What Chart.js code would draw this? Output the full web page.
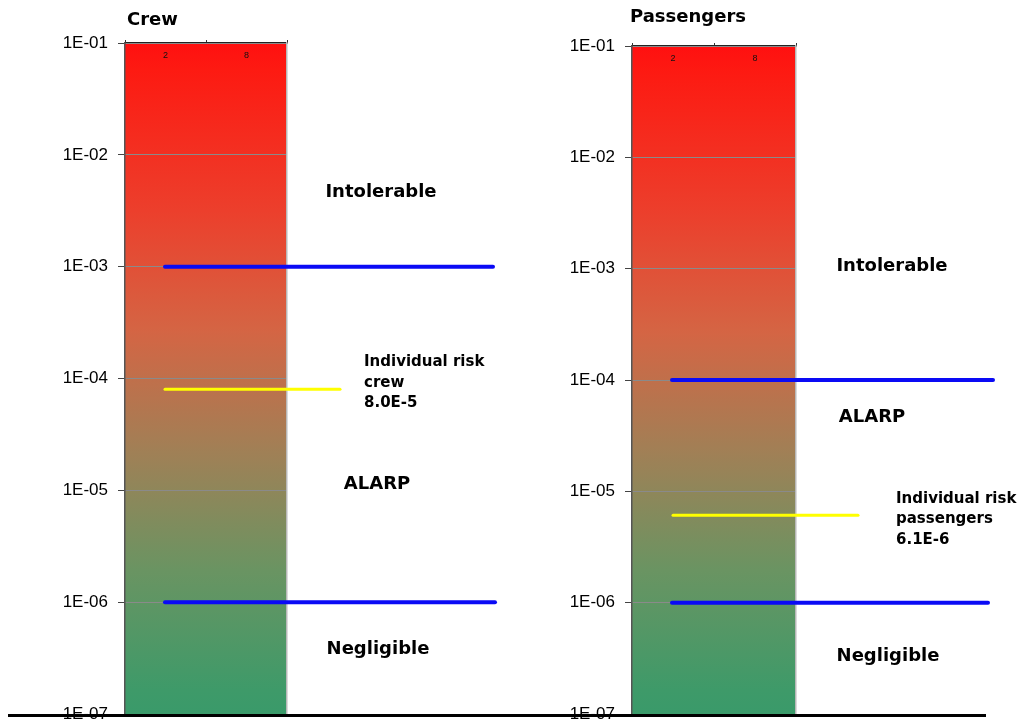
<!DOCTYPE html>
<html>
<head>
<meta charset="utf-8">
<title>Individual risk – crew and passengers</title>
<script src="https://cdn.jsdelivr.net/npm/chart.js@4/dist/chart.umd.min.js"></script>
<style>
  html, body { margin: 0; padding: 0; background: #ffffff; overflow: hidden; }
  canvas { position: absolute; top: 0; display: block; }
  #crew { left: 0; }
  #pax { left: 510px; }
</style>
</head>
<body>
<canvas id="crew" width="510" height="740"></canvas>
<canvas id="pax" width="510" height="740"></canvas>
<script>
// ---- data ----
const categories = ['2', '8'];
const tickValues = [1e-1, 1e-2, 1e-3, 1e-4, 1e-5, 1e-6, 1e-7];
const tickLabels = ['1E-01', '1E-02', '1E-03', '1E-04', '1E-05', '1E-06', '1E-07'];
const bandRange = [1e-7, 1e-1];

const crewLimits = [1e-3, 1e-6];
const crewRisk = 8.0e-5;
const passengerLimits = [1e-4, 1e-6];
const passengerRisk = 6.1e-6;

const zoneNames = ['Intolerable', 'ALARP', 'Negligible'];
const titles = ['Crew', 'Passengers'];
const riskGroups = ['crew', 'passengers'];

// ---- helpers ----
const fmtRisk = v => v.toExponential(1).toUpperCase();

function bandGradient(ctx) {
  const area = ctx.chart.chartArea;
  if (!area) return '#e04030';
  const g = ctx.chart.ctx.createLinearGradient(0, area.top, 0, area.bottom);
  g.addColorStop(0.00, '#ff1010');
  g.addColorStop(0.04, '#fd1a12');
  g.addColorStop(0.25, '#ec3f2c');
  g.addColorStop(0.43, '#d46544');
  g.addColorStop(0.61, '#a08056');
  g.addColorStop(0.785, '#6a9462');
  g.addColorStop(0.964, '#3e9a69');
  g.addColorStop(1.00, '#3a9a6a');
  return g;
}

// Draws limit lines, risk line, zone names, title and category marks.
const riskOverlay = {
  id: 'riskOverlay',
  afterDraw(chart, args, o) {
    const { ctx, chartArea: a } = chart;
    const y = chart.scales.y;
    const x = chart.scales.x;
    ctx.save();

    // category marks along the top of the band
    ctx.fillStyle = '#111';
    ctx.font = '9px "Liberation Sans", Arial, sans-serif';
    ctx.textAlign = 'center';
    ctx.textBaseline = 'middle';
    categories.forEach((c, i) => ctx.fillText(c, x.getPixelForValue(i), a.top + 13));

    // limit and risk lines
    ctx.lineCap = 'round';
    o.lines.forEach(l => {
      const py = y.getPixelForValue(l.value);
      ctx.strokeStyle = l.color;
      ctx.lineWidth = l.width;
      ctx.beginPath();
      ctx.moveTo(a.left + l.from, py);
      ctx.lineTo(a.left + l.to, py);
      ctx.stroke();
    });

    // zone names
    ctx.fillStyle = '#000';
    ctx.font = 'bold 18px "DejaVu Sans", sans-serif';
    ctx.textAlign = 'center';
    o.zones.forEach(z => ctx.fillText(z.text, a.left + z.dx, y.getPixelForValue(z.at)));

    // risk annotation
    ctx.font = 'bold 15px "DejaVu Sans", sans-serif';
    ctx.textAlign = 'left';
    const y0 = y.getPixelForValue(o.note.at);
    o.note.lines.forEach((t, i) => ctx.fillText(t, a.left + o.note.dx, y0 + i * 20.5));

    // title
    ctx.font = 'bold 18px "DejaVu Sans", sans-serif';
    ctx.fillText(o.title.text, a.left + o.title.dx, o.title.y);

    // base line
    ctx.strokeStyle = '#000';
    ctx.lineWidth = 3;
    ctx.lineCap = 'butt';
    ctx.beginPath();
    ctx.moveTo(o.base[0], a.bottom + 1.5);
    ctx.lineTo(o.base[1], a.bottom + 1.5);
    ctx.stroke();

    ctx.restore();
  }
};
Chart.register(riskOverlay);

function makeChart(id, axisWidth, rightPad, topPad, overlay) {
  return new Chart(document.getElementById(id), {
    type: 'bar',
    data: {
      labels: categories,
      datasets: [{
        data: categories.map(() => bandRange.slice()),
        backgroundColor: bandGradient,
        borderWidth: 0,
        barPercentage: 1,
        categoryPercentage: 1
      }]
    },
    options: {
      responsive: false,
      animation: false,
      devicePixelRatio: 1,
      layout: { padding: { left: 0, right: rightPad, top: topPad, bottom: 26 } },
      plugins: {
        legend: { display: false },
        tooltip: { enabled: false },
        riskOverlay: overlay
      },
      scales: {
        x: {
          position: 'top',
          offset: true,
          ticks: { display: false },
          grid: { z: 1, offset: true, drawOnChartArea: false, tickLength: 3, color: '#333' },
          border: { z: 1, display: true, color: '#222', width: 1.5 },
          afterFit: s => { s.height = 0; }
        },
        y: {
          type: 'logarithmic',
          min: bandRange[0],
          max: bandRange[1],
          afterBuildTicks: s => { s.ticks = tickValues.map(v => ({ value: v })); },
          afterFit: s => { s.width = axisWidth; },
          ticks: {
            padding: 10,
            color: '#000',
            font: { family: '"Liberation Sans", Arial, sans-serif', size: 17 },
            callback: v => tickLabels[tickValues.findIndex(t => Math.abs(Math.log10(t) - Math.log10(v)) < 1e-6)]
          },
          grid: { z: 1, color: '#8a8a8a', lineWidth: 1, tickLength: 7, tickColor: '#444' },
          border: { z: 1, display: true, color: '#555', width: 1.5 }
        },
        y2: {
          type: 'logarithmic',
          position: 'right',
          min: bandRange[0],
          max: bandRange[1],
          ticks: { display: false },
          grid: { display: false },
          border: { z: 1, display: true, color: '#b8b8b8', width: 1.5 },
          afterFit: s => { s.width = 0; }
        }
      }
    }
  });
}

makeChart('crew', 125, 223, 43, {
  title: { text: titles[0], dx: 2, y: 20 },
  base: [8, 510],
  lines: [
    { value: crewLimits[0], from: 40, to: 368, color: '#0a0af5', width: 4 },
    { value: crewLimits[1], from: 40, to: 370, color: '#0a0af5', width: 4 },
    { value: crewRisk, from: 40, to: 215, color: '#ffff00', width: 3 }
  ],
  zones: [
    { text: zoneNames[0], at: 4.6e-3, dx: 256 },
    { text: zoneNames[1], at: 1.13e-5, dx: 252 },
    { text: zoneNames[2], at: 3.8e-7, dx: 253 }
  ],
  note: { lines: ['Individual risk', riskGroups[0], fmtRisk(crewRisk)], at: 1.4e-4, dx: 239 }
});

makeChart('pax', 122, 224, 46, {
  title: { text: titles[1], dx: -2, y: 17 },
  base: [0, 476],
  lines: [
    { value: passengerLimits[0], from: 40, to: 361, color: '#0a0af5', width: 4 },
    { value: passengerLimits[1], from: 40, to: 356, color: '#0a0af5', width: 4 },
    { value: passengerRisk, from: 41, to: 226, color: '#ffff00', width: 3 }
  ],
  zones: [
    { text: zoneNames[0], at: 1.06e-3, dx: 260 },
    { text: zoneNames[1], at: 4.58e-5, dx: 240 },
    { text: zoneNames[2], at: 3.27e-7, dx: 256 }
  ],
  note: { lines: ['Individual risk', riskGroups[1], fmtRisk(passengerRisk)], at: 8.6e-6, dx: 264 }
});
</script>
</body>
</html>
